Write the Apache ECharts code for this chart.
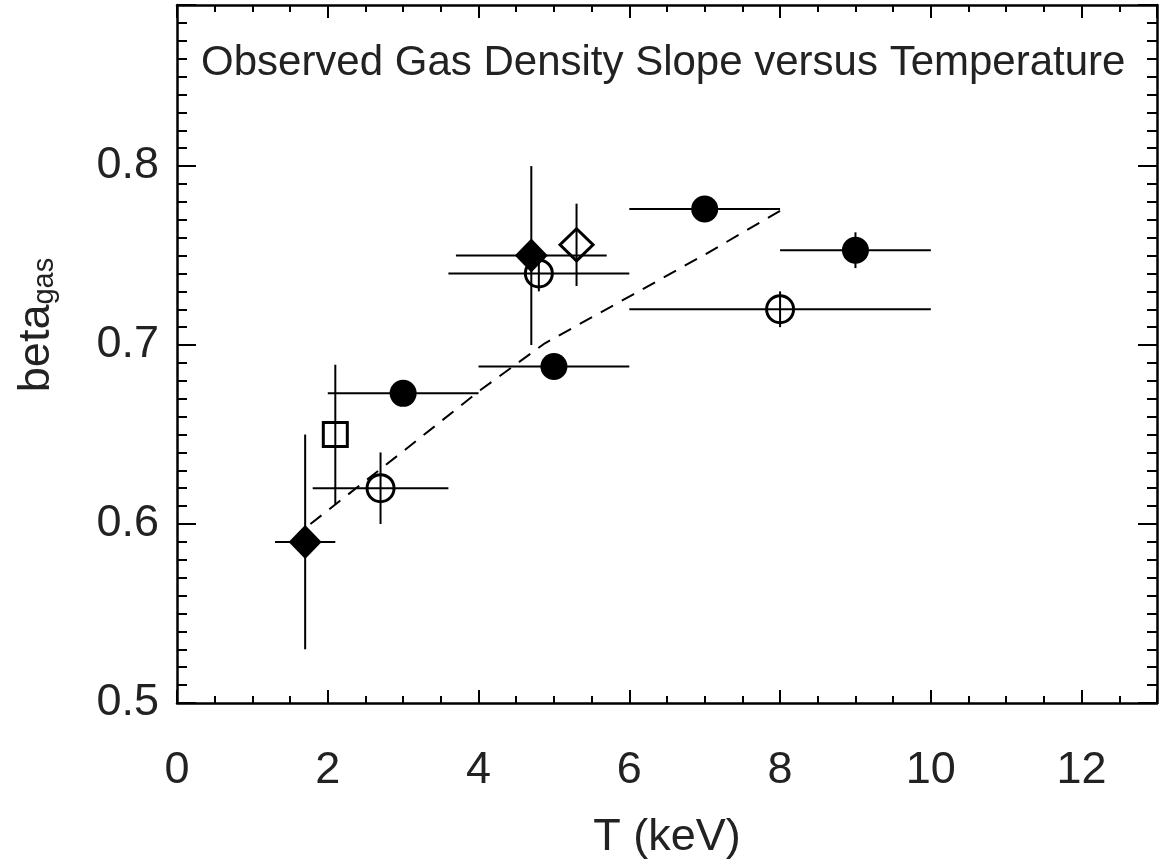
<!DOCTYPE html>
<html>
<head>
<meta charset="utf-8">
<script src="https://cdn.jsdelivr.net/npm/echarts@6/dist/echarts.min.js"></script>
<style>
html,body{margin:0;padding:0;background:#fff;}
#chart{width:1164px;height:867px;}
</style>
</head>
<body>
<div id="chart"></div>
<script>
// ---- data ----
// each row: [T (keV), beta_gas, T error (+/-), beta error (+/-)]
const filledCircles = [
  [3.0, 0.673, 1.0, 0],
  [5.0, 0.688, 1.0, 0],
  [7.0, 0.776, 1.0, 0],
  [9.0, 0.753, 1.0, 0.010]
];
const openCircles = [
  [2.7, 0.620, 0.9, 0.020],
  [4.8, 0.740, 1.2, 0.010],
  [8.0, 0.720, 2.0, 0.010]
];
const filledDiamonds = [
  [1.7, 0.590, 0.4, 0.060],
  [4.7, 0.750, 1.0, 0.050]
];
const openDiamonds = [
  [5.3, 0.756, 0, 0.023]
];
const openSquares = [
  [2.1, 0.650, 0, 0.039]
];
// dashed trend line points [T, beta]
const trendLine = [
  [1.77, 0.600], [2.92, 0.638], [4.03, 0.675], [4.88, 0.701],
  [6.06, 0.7285], [7.02, 0.751], [8.0, 0.775]
];
const xLabelValues = [0, 2, 4, 6, 8, 10, 12];
const yLabelValues = [0.5, 0.6, 0.7, 0.8];
const titleText = 'Observed Gas Density Slope versus Temperature';
const xTitle = 'T (keV)';

// ---- chart ----
const FONT = '"Liberation Sans", Arial, Helvetica, sans-serif';
const TXT = '#222';
const allPoints = [].concat(filledCircles, openCircles, filledDiamonds, openDiamonds, openSquares);

function baseX(pos, interval, tickLen, showLabel, showLine) {
  return {
    type: 'value', position: pos, min: 0, max: 13, interval: interval,
    axisLine: {show: showLine, onZero: false, lineStyle: {color: '#000', width: 2.5}},
    axisTick: {show: true, inside: true, length: tickLen, lineStyle: {color: '#000', width: 2}},
    axisLabel: showLabel ? {
      show: true, margin: 45, fontSize: 45, fontFamily: FONT, color: TXT,
      formatter: function (v) {
        for (const t of xLabelValues) { if (Math.abs(v - t) < 1e-9) return String(t); }
        return '';
      }
    } : {show: false},
    splitLine: {show: false}
  };
}
function baseY(pos, interval, tickLen, showLabel, showLine) {
  return {
    type: 'value', position: pos, min: 0.5, max: 0.89, interval: interval,
    axisLine: {show: showLine, onZero: false, lineStyle: {color: '#000', width: 2.5}},
    axisTick: {show: true, inside: true, length: tickLen, lineStyle: {color: '#000', width: 2}},
    axisLabel: showLabel ? {
      show: true, margin: 18, fontSize: 45, fontFamily: FONT, color: TXT,
      formatter: function (v) {
        for (const t of yLabelValues) { if (Math.abs(v - t) < 1e-6) return t.toFixed(1); }
        return '';
      }
    } : {show: false},
    splitLine: {show: false}
  };
}

const xAxes = [
  Object.assign(baseX('bottom', 0.5, 7, true, true), {
    name: xTitle, nameLocation: 'middle', nameGap: 112,
    nameTextStyle: {fontSize: 45, fontFamily: FONT, color: TXT}
  }),
  baseX('bottom', 2, 13, false, false),
  baseX('top', 0.5, 7, false, true),
  baseX('top', 2, 13, false, false)
];
const yAxes = [
  baseY('left', 0.1, 19, true, true),
  baseY('left', 0.01, 10, false, false),
  baseY('right', 0.1, 19, false, true),
  baseY('right', 0.01, 10, false, false)
];

function markerSeries(rows, symbol, size, filled, z) {
  return {
    type: 'scatter', xAxisIndex: 0, yAxisIndex: 0, z: z, silent: true,
    symbol: symbol, symbolSize: size,
    data: rows.map(r => [r[0], r[1]]),
    itemStyle: filled ? {color: '#000', borderWidth: 0, opacity: 1}
                      : {color: 'rgba(0,0,0,0)', borderColor: '#000', borderWidth: 3, opacity: 1},
    emphasis: {disabled: true}
  };
}

const option = {
  animation: false,
  backgroundColor: '#fff',
  grid: {left: 177, right: 7, top: 5, bottom: 164, containLabel: false},
  xAxis: xAxes,
  yAxis: yAxes,
  graphic: [
    {
      type: 'text', x: 201, y: 63, z: 10, silent: true,
      style: {text: titleText, fontSize: 42, fontFamily: FONT, fill: TXT,
              align: 'left', verticalAlign: 'middle'}
    },
    {
      type: 'text', x: 34, y: 325, rotation: Math.PI / 2, z: 10, silent: true,
      style: {
        text: '{b|beta}{s|gas}', align: 'center', verticalAlign: 'middle',
        fill: TXT, fontFamily: FONT,
        rich: {
          b: {fontSize: 45, lineHeight: 50, fontFamily: FONT, fill: TXT, verticalAlign: 'bottom'},
          s: {fontSize: 29, lineHeight: 22, fontFamily: FONT, fill: TXT, verticalAlign: 'bottom'}
        }
      }
    }
  ],
  series: [
    {
      type: 'line', xAxisIndex: 0, yAxisIndex: 0, z: 1, silent: true,
      data: trendLine, showSymbol: false, symbol: 'none', smooth: false,
      lineStyle: {color: '#000', width: 2, type: [14, 10]}
    },
    {
      type: 'custom', xAxisIndex: 0, yAxisIndex: 0, z: 2, silent: true,
      data: allPoints,
      encode: {x: 0, y: 1},
      renderItem: function (params, api) {
        const x = api.value(0), y = api.value(1), dx = api.value(2), dy = api.value(3);
        const children = [];
        const st = {stroke: '#000', lineWidth: 2};
        if (dx > 0) {
          const a = api.coord([x - dx, y]), b = api.coord([x + dx, y]);
          children.push({type: 'line', shape: {x1: a[0], y1: a[1], x2: b[0], y2: b[1]}, style: st});
        }
        if (dy > 0) {
          const a = api.coord([x, y - dy]), b = api.coord([x, y + dy]);
          children.push({type: 'line', shape: {x1: a[0], y1: a[1], x2: b[0], y2: b[1]}, style: st});
        }
        return {type: 'group', children: children};
      }
    },
    markerSeries(openCircles, 'circle', 27, false, 3),
    markerSeries(openSquares, 'rect', 24, false, 3),
    markerSeries(openDiamonds, 'diamond', [33, 32], false, 3),
    markerSeries(filledCircles, 'circle', 27, true, 4),
    markerSeries(filledDiamonds, 'diamond', [33, 34], true, 4)
  ]
};

const chart = echarts.init(document.getElementById('chart'), null, {renderer: 'canvas'});
chart.setOption(option);
</script>
</body>
</html>
